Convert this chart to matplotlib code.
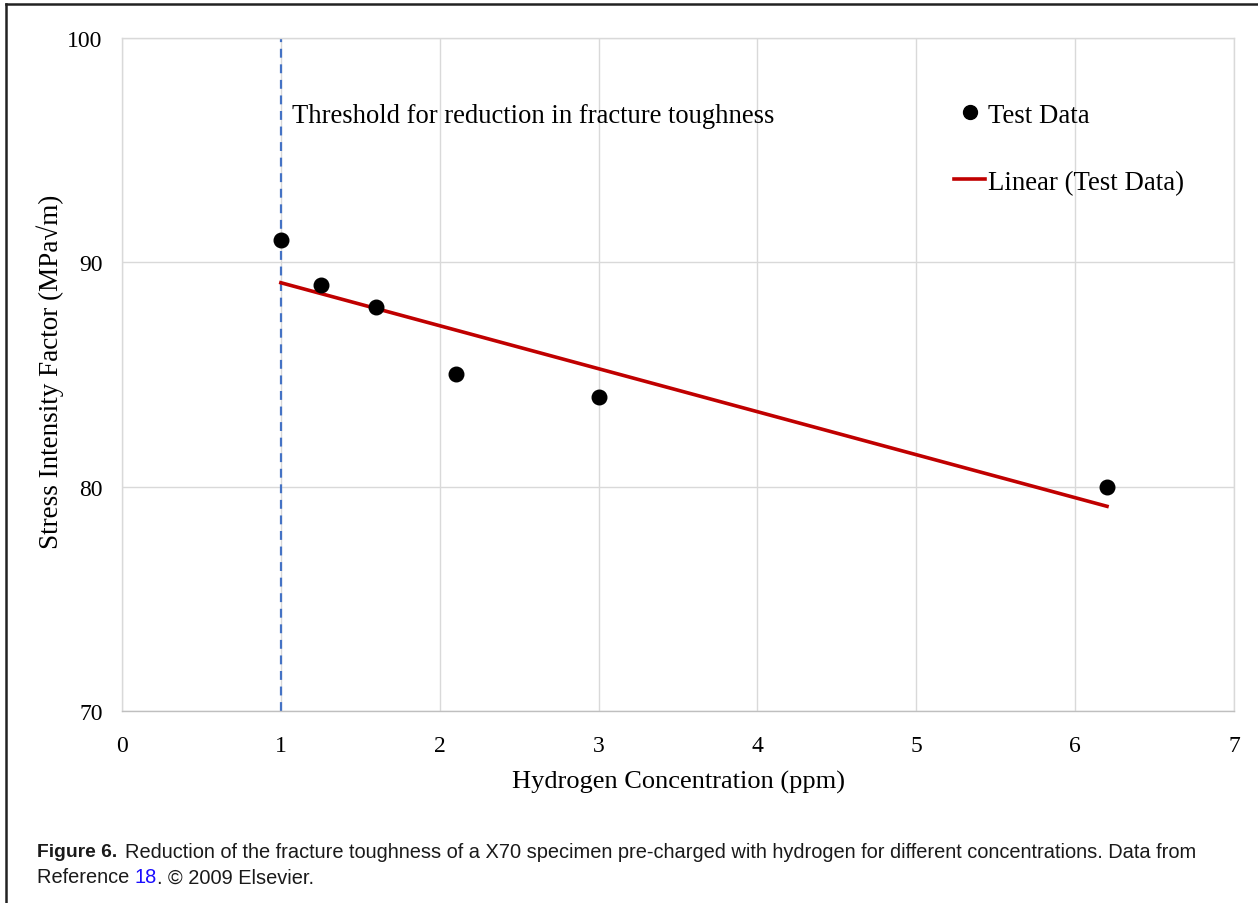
import numpy as np
import matplotlib
matplotlib.use("Agg")
import matplotlib.pyplot as plt
from matplotlib.lines import Line2D

# data
conc = [1.0, 1.25, 1.6, 2.1, 3.0, 6.2]
kic = [91, 89, 88, 85, 84, 80]
x_ticks = [0, 1, 2, 3, 4, 5, 6, 7]
y_ticks = [70, 80, 90, 100]
threshold = 1.0

serif = ["Liberation Serif", "DejaVu Serif"]
sans = ["Liberation Sans", "DejaVu Sans"]
grid_c = "#d9d9d9"
W, H = 1258, 904

fig = plt.figure(figsize=(12.58, 9.04), dpi=100)
ax = fig.add_axes([0.097, 0.2124, 0.884, 0.7445])

ax.set_xlim(0, 7)
ax.set_ylim(70, 100)
ax.set_xticks(x_ticks)
ax.set_yticks(y_ticks)
ax.grid(True, color=grid_c, linewidth=1)
ax.set_axisbelow(True)
for s in ax.spines.values():
    s.set_color(grid_c)
    s.set_linewidth(1)
ax.spines["bottom"].set_color("#bfbfbf")
ax.tick_params(length=0)
ax.tick_params(axis="y", pad=14)
ax.tick_params(axis="x", pad=17)
for lab in ax.get_xticklabels() + ax.get_yticklabels():
    lab.set_family(serif)
    lab.set_fontsize(17)

ax.axvline(threshold, color="#4472C4", linestyle=(0, (4, 3)), linewidth=1.6)

# linear trend of the test data
k, b = np.polyfit(conc, kic, 1)
xs = np.array([min(conc), max(conc)])
ax.plot(xs, k * xs + b, color="#C00000", linewidth=2.6, label="Linear (Test Data)")
ax.scatter(conc, kic, s=110, color="black", zorder=3, label="Test Data")

ax.text(1.07, 96.55, "Threshold for reduction in fracture toughness",
        family=serif, fontsize=19.2, va="center", ha="left")

ax.set_xlabel("Hydrogen Concentration (ppm)", family=serif, fontsize=19, labelpad=10)
ax.set_ylabel("Stress Intensity Factor (MPa\u221am)", family=serif, fontsize=19.5)
ax.yaxis.set_label_coords(-0.052, 0.505)

handles = [Line2D([], [], marker="o", color="black", linestyle="none", markersize=10),
           Line2D([], [], color="#C00000", linewidth=2.6)]
fig.legend(handles, ["Test Data", "Linear (Test Data)"], loc="upper left",
           bbox_to_anchor=(0.748, 0.9003), frameon=False, borderpad=0,
           handlelength=1.15, handletextpad=0.1, labelspacing=1.57,
           prop={"family": serif, "size": 19.3})

# frame lines around the figure (top and left only)
fig.add_artist(Line2D([6 / W, 1], [1 - 5 / H, 1 - 5 / H], color="#222222",
                      linewidth=1.8, transform=fig.transFigure))
fig.add_artist(Line2D([6 / W, 6 / W], [0, 1 - 5 / H], color="#222222",
                      linewidth=1.8, transform=fig.transFigure))

# caption
cap_c = "#1a1a1a"
fig.text(37 / W, 1 - 853 / H, "Figure 6.", family=sans, fontsize=13.9,
         fontweight="bold", va="center", color=cap_c)
fig.text(125 / W, 1 - 853 / H,
         "Reduction of the fracture toughness of a X70 specimen pre-charged with hydrogen "
         "for different concentrations. Data from",
         family=sans, fontsize=14.4, va="center", color=cap_c)
t1 = fig.text(37 / W, 1 - 878 / H, "Reference ", family=sans, fontsize=14.4,
              va="center", color=cap_c)
fig.canvas.draw()
r = fig.canvas.get_renderer()
bb = t1.get_window_extent(r)
t2 = fig.text(bb.x1 / W, 1 - 878 / H, "18", family=sans, fontsize=14.4,
              va="center", color="#1a0dff")
bb2 = t2.get_window_extent(r)
fig.text(bb2.x1 / W, 1 - 878 / H, ". \u00a9 2009 Elsevier.", family=sans,
         fontsize=14.4, va="center", color=cap_c)

fig.savefig("out.png", dpi=100)
